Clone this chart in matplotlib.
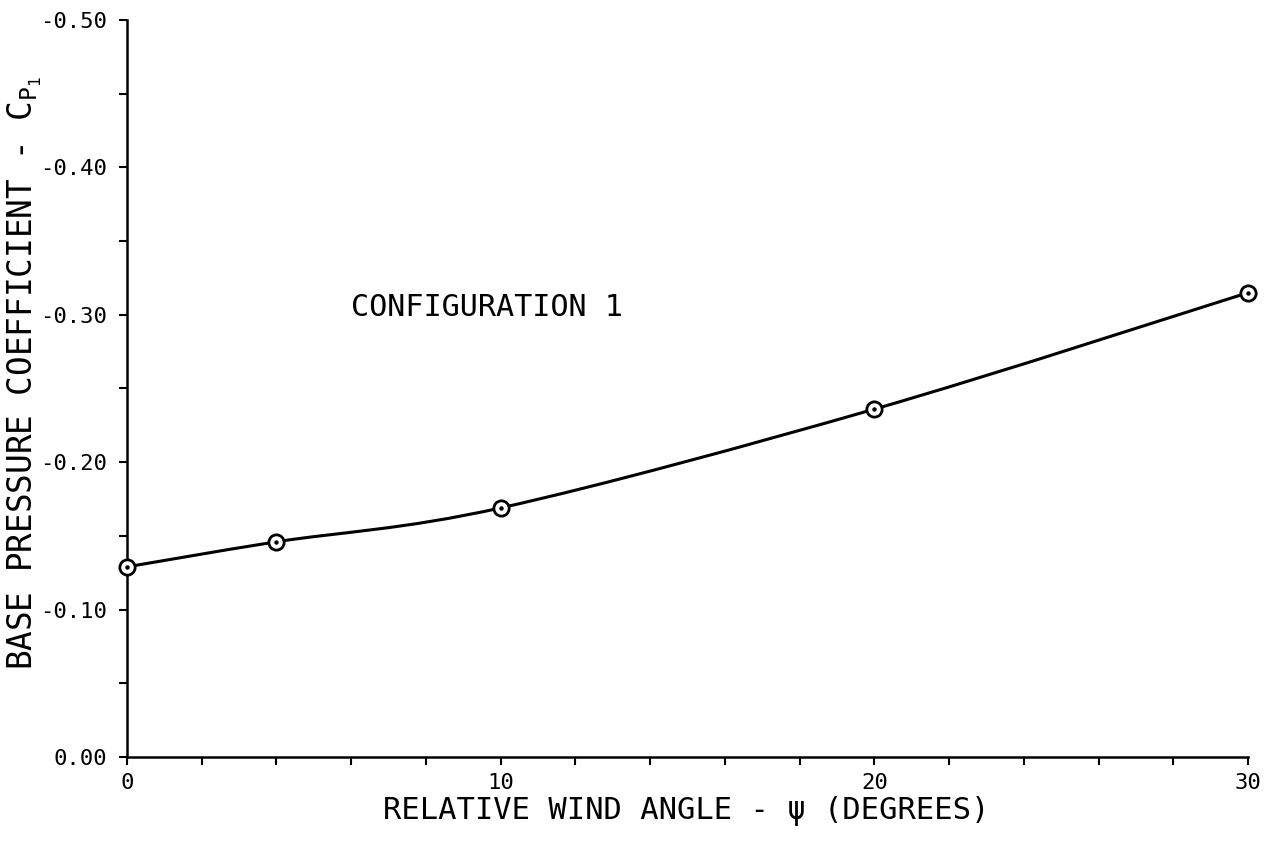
import matplotlib.pyplot as plt
from matplotlib.path import Path
from matplotlib.patches import PathPatch
from matplotlib.ticker import MultipleLocator, FixedLocator

# Mesures : coefficient de pression de culot en fonction de l'angle du vent
angle = [0, 4, 10, 20, 30]
cp1 = [-0.129, -0.146, -0.169, -0.236, -0.315]

x_labels = [0, 10, 20, 30]
y_labels = [0.0, -0.1, -0.2, -0.3, -0.4, -0.5]

plt.rcParams['font.family'] = ['DejaVu Sans Mono', 'DejaVu Sans']
plt.rcParams['mathtext.fontset'] = 'custom'
plt.rcParams['mathtext.rm'] = 'DejaVu Sans Mono'
plt.rcParams['mathtext.it'] = 'DejaVu Sans Mono'

fig = plt.figure(figsize=(12.66, 8.41), dpi=100)
ax = fig.add_axes([0.1003, 0.0999, 0.8855, 0.8763])

# courbe lissée (Catmull-Rom -> Bézier cubiques) passant par les points
verts = [(angle[0], cp1[0])]
codes = [Path.MOVETO]
n = len(angle)
for i in range(n - 1):
    p0 = (angle[max(i - 1, 0)], cp1[max(i - 1, 0)])
    p1 = (angle[i], cp1[i])
    p2 = (angle[i + 1], cp1[i + 1])
    p3 = (angle[min(i + 2, n - 1)], cp1[min(i + 2, n - 1)])
    c1 = (p1[0] + (p2[0] - p0[0]) / 6, p1[1] + (p2[1] - p0[1]) / 6)
    c2 = (p2[0] - (p3[0] - p1[0]) / 6, p2[1] - (p3[1] - p1[1]) / 6)
    verts += [c1, c2, p2]
    codes += [Path.CURVE4] * 3
ax.add_patch(PathPatch(Path(verts, codes), facecolor='none',
                       edgecolor='black', lw=2.2, zorder=2))

ax.plot(angle, cp1, linestyle='none', marker='o', ms=11, mfc='white',
        mec='black', mew=2.0, zorder=3, clip_on=False)
ax.plot(angle, cp1, linestyle='none', marker='o', ms=2.2, mfc='black',
        mec='black', zorder=4, clip_on=False)

ax.set_xlim(0, 30)
ax.set_ylim(0, -0.5)

ax.xaxis.set_major_locator(FixedLocator(x_labels))
ax.xaxis.set_minor_locator(MultipleLocator(2))
ax.yaxis.set_major_locator(FixedLocator(y_labels))
ax.yaxis.set_minor_locator(MultipleLocator(0.05))
ax.set_yticklabels([f"{v:.2f}" if v != 0 else "0.00" for v in y_labels])

ax.tick_params(which='both', direction='out', length=5.5, width=1.5,
               labelsize=16, colors='black')
ax.tick_params(axis='x', pad=6)
ax.tick_params(axis='y', pad=9)

for side in ['top', 'right']:
    ax.spines[side].set_visible(False)
for side in ['left', 'bottom']:
    ax.spines[side].set_linewidth(1.8)

ax.text(6.0, -0.305, "CONFIGURATION 1", fontsize=21.7, ha='left',
        va='center')

fig.text(0.542, 0.036, "RELATIVE WIND ANGLE - \u03c8 (DEGREES)",
         fontsize=22, ha='center', va='center')
fig.text(0.0195, 0.557,
         r"BASE PRESSURE COEFFICIENT - C$\mathregular{_{P_1}}$",
         fontsize=23.5, rotation=90, ha='center', va='center')

plt.savefig("out.png", dpi=100)
